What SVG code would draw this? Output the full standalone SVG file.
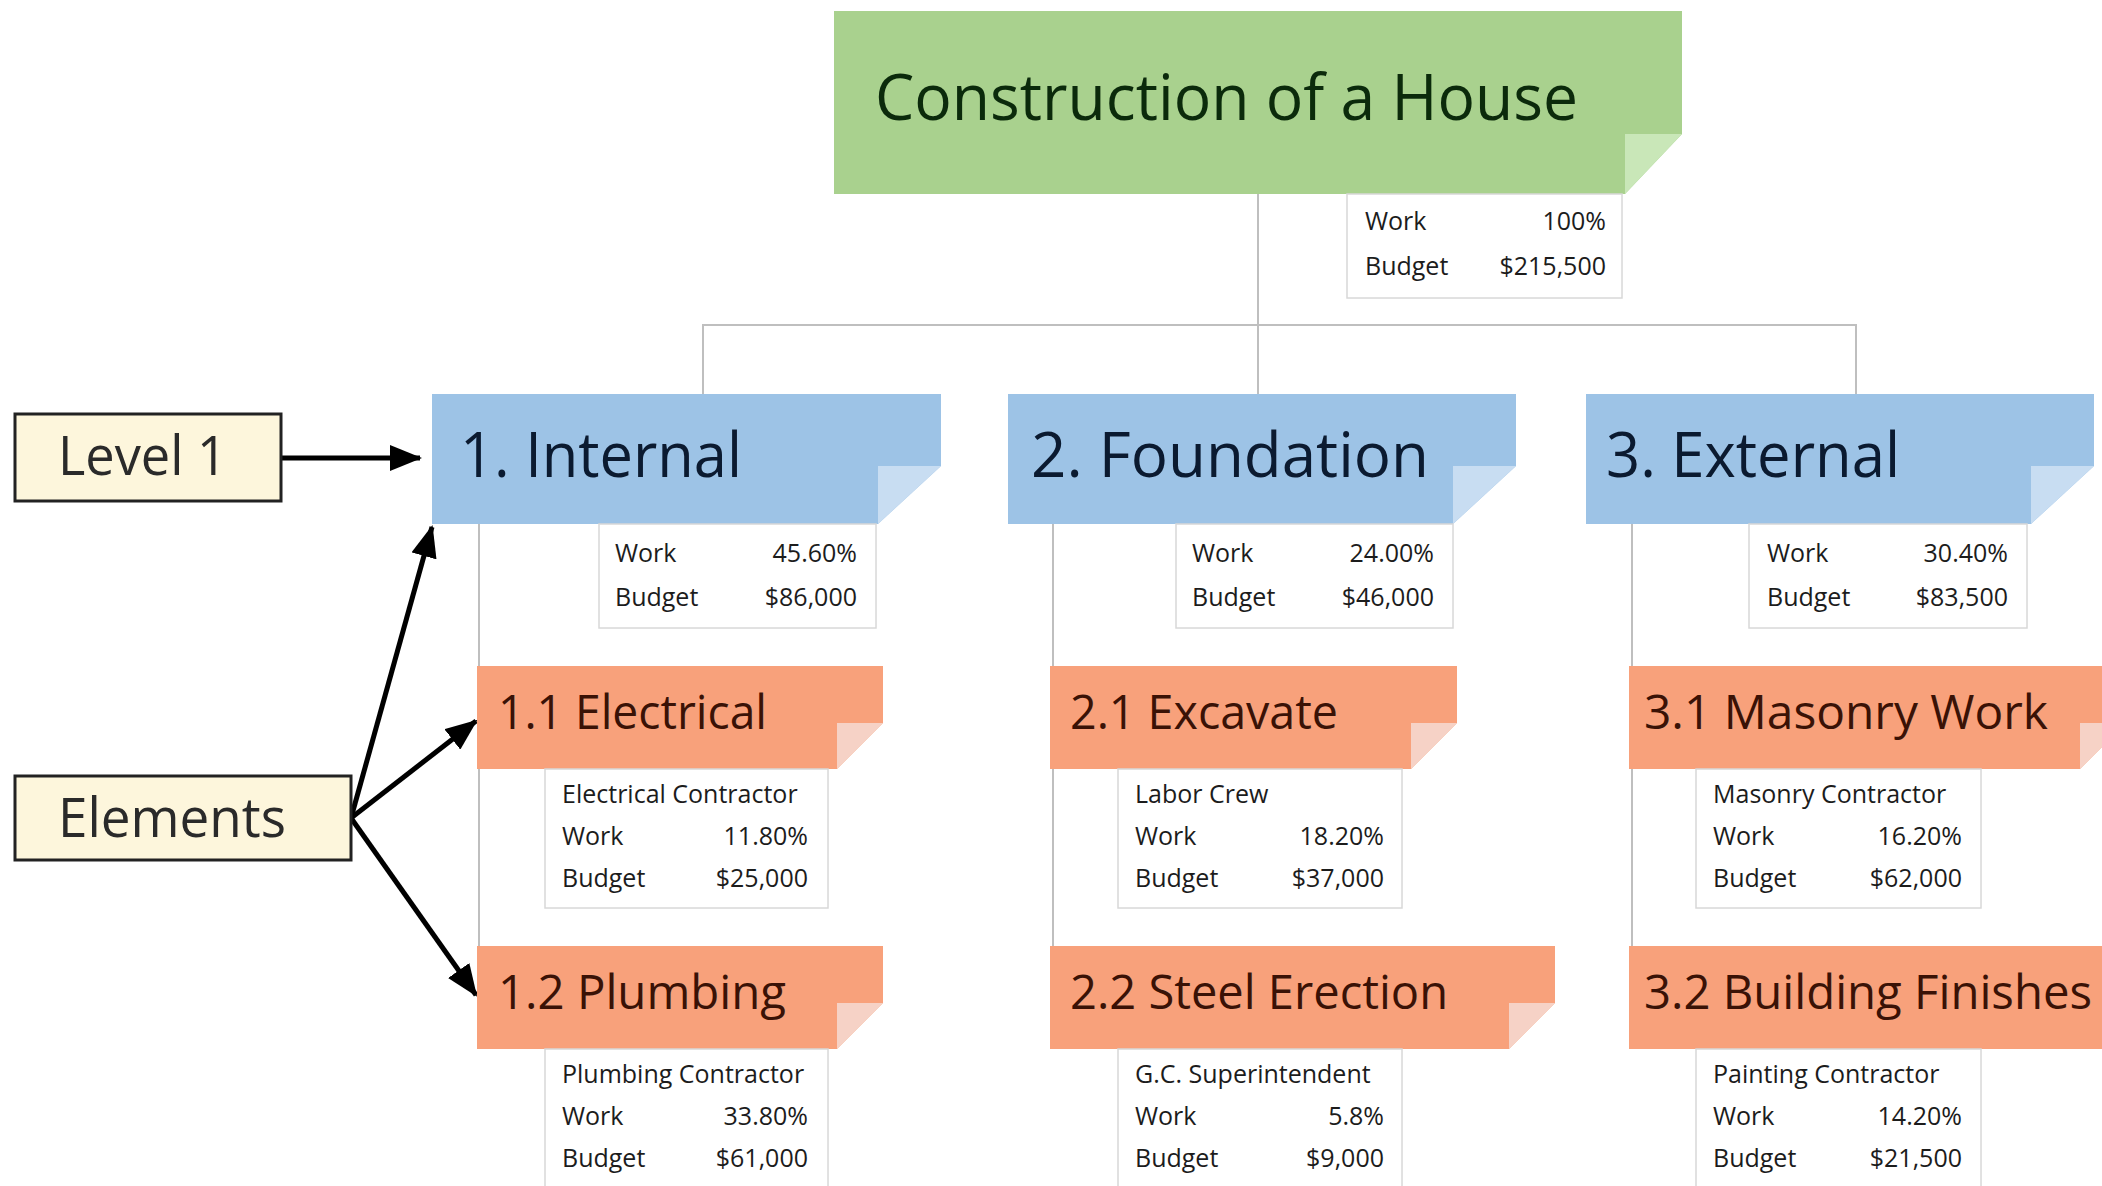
<svg xmlns="http://www.w3.org/2000/svg" width="2102" height="1186" viewBox="0 0 2102 1186">
<defs>
<style>
text{font-family:"Open Sans","Noto Sans","Liberation Sans",sans-serif;}
.t0{font-size:64px;fill:#0b2a0b;}
.t1{font-size:62px;fill:#0b1a30;}
.t2{font-size:48px;fill:#3a1206;}
.sm{font-size:25px;fill:#1c1c1c;}
.r{text-anchor:end;}
.ann{font-size:54px;fill:#2a2a2a;}
.green{fill:#a9d18e;}
.greenf{fill:#c9e7b8;}
.blue{fill:#9dc3e6;}
.bluef{fill:#c8ddf2;}
.orange{fill:#f8a17b;}
.orangef{fill:#f6d2c6;}
.det{fill:#ffffff;stroke:#d8d8d8;stroke-width:1.5;}
.conn{fill:none;stroke:#bfbfbf;stroke-width:2;}
.annbox{fill:#fdf6dc;stroke:#222222;stroke-width:3;}
.arrow{fill:none;stroke:#000000;stroke-width:5;}
</style>
<marker id="ah" markerUnits="userSpaceOnUse" markerWidth="32" markerHeight="26" refX="30" refY="13" orient="auto">
<path d="M0,0 L32,13 L0,26 Z" fill="#000000"/>
</marker>
</defs>
<rect width="2102" height="1186" fill="#ffffff"/>

<g id="connectors">
<line class="conn" x1="1258" y1="194" x2="1258" y2="394"/>
<polyline class="conn" points="703,394 703,325 1856,325 1856,394"/>
<line class="conn" x1="479" y1="524" x2="479" y2="997"/>
<line class="conn" x1="1053" y1="524" x2="1053" y2="997"/>
<line class="conn" x1="1632" y1="524" x2="1632" y2="997"/>
<line class="arrow" x1="281" y1="458" x2="420" y2="458" marker-end="url(#ah)"/>
<line class="arrow" x1="351" y1="818" x2="432" y2="527" marker-end="url(#ah)"/>
<line class="arrow" x1="351" y1="818" x2="476" y2="721" marker-end="url(#ah)"/>
<line class="arrow" x1="351" y1="818" x2="476" y2="995" marker-end="url(#ah)"/>
</g>

<g id="root">
<polygon class="green" points="834,11 1682,11 1682,134 1625,194 834,194"/>
<polygon class="greenf" points="1625,134 1682,134 1625,194"/>
<text class="t0" x="875" y="120" textLength="703" lengthAdjust="spacingAndGlyphs">Construction of a House</text>
<rect class="det" x="1347" y="194" width="275" height="104"/>
<text class="sm" x="1365" y="230">Work</text>
<text class="sm r" x="1606" y="230">100%</text>
<text class="sm" x="1365" y="275">Budget</text>
<text class="sm r" x="1606" y="275">$215,500</text>
</g>

<g id="n1">
<polygon class="blue" points="432,394 941,394 941,466 878,524 432,524"/>
<polygon class="bluef" points="878,466 941,466 878,524"/>
<text class="t1" x="460" y="477" textLength="282" lengthAdjust="spacingAndGlyphs">1. Internal</text>
<rect class="det" x="599" y="524" width="277" height="104"/>
<text class="sm" x="615" y="562">Work</text>
<text class="sm r" x="857" y="562">45.60%</text>
<text class="sm" x="615" y="606">Budget</text>
<text class="sm r" x="857" y="606">$86,000</text>
</g>

<g id="n2">
<polygon class="blue" points="1008,394 1516,394 1516,466 1453,524 1008,524"/>
<polygon class="bluef" points="1453,466 1516,466 1453,524"/>
<text class="t1" x="1031" y="477" textLength="398" lengthAdjust="spacingAndGlyphs">2. Foundation</text>
<rect class="det" x="1176" y="524" width="277" height="104"/>
<text class="sm" x="1192" y="562">Work</text>
<text class="sm r" x="1434" y="562">24.00%</text>
<text class="sm" x="1192" y="606">Budget</text>
<text class="sm r" x="1434" y="606">$46,000</text>
</g>

<g id="n3">
<polygon class="blue" points="1586,394 2094,394 2094,466 2031,524 1586,524"/>
<polygon class="bluef" points="2031,466 2094,466 2031,524"/>
<text class="t1" x="1606" y="477" textLength="294" lengthAdjust="spacingAndGlyphs">3. External</text>
<rect class="det" x="1749" y="524" width="278" height="104"/>
<text class="sm" x="1767" y="562">Work</text>
<text class="sm r" x="2008" y="562">30.40%</text>
<text class="sm" x="1767" y="606">Budget</text>
<text class="sm r" x="2008" y="606">$83,500</text>
</g>

<g id="n1-1">
<polygon class="orange" points="477,666 883,666 883,723 837,769 477,769"/>
<polygon class="orangef" points="837,723 883,723 837,769"/>
<text class="t2" x="498" y="729" textLength="269" lengthAdjust="spacingAndGlyphs">1.1 Electrical</text>
<rect class="det" x="545" y="769" width="283" height="139"/>
<text class="sm" x="562" y="803">Electrical Contractor</text>
<text class="sm" x="562" y="845">Work</text>
<text class="sm r" x="808" y="845">11.80%</text>
<text class="sm" x="562" y="887">Budget</text>
<text class="sm r" x="808" y="887">$25,000</text>
</g>

<g id="n1-2">
<polygon class="orange" points="477,946 883,946 883,1003 837,1049 477,1049"/>
<polygon class="orangef" points="837,1003 883,1003 837,1049"/>
<text class="t2" x="498" y="1009" textLength="288" lengthAdjust="spacingAndGlyphs">1.2 Plumbing</text>
<rect class="det" x="545" y="1049" width="283" height="145"/>
<text class="sm" x="562" y="1083">Plumbing Contractor</text>
<text class="sm" x="562" y="1125">Work</text>
<text class="sm r" x="808" y="1125">33.80%</text>
<text class="sm" x="562" y="1167">Budget</text>
<text class="sm r" x="808" y="1167">$61,000</text>
</g>

<g id="n2-1">
<polygon class="orange" points="1050,666 1457,666 1457,723 1411,769 1050,769"/>
<polygon class="orangef" points="1411,723 1457,723 1411,769"/>
<text class="t2" x="1070" y="729" textLength="268" lengthAdjust="spacingAndGlyphs">2.1 Excavate</text>
<rect class="det" x="1118" y="769" width="284" height="139"/>
<text class="sm" x="1135" y="803">Labor Crew</text>
<text class="sm" x="1135" y="845">Work</text>
<text class="sm r" x="1384" y="845">18.20%</text>
<text class="sm" x="1135" y="887">Budget</text>
<text class="sm r" x="1384" y="887">$37,000</text>
</g>

<g id="n2-2">
<polygon class="orange" points="1050,946 1555,946 1555,1003 1509,1049 1050,1049"/>
<polygon class="orangef" points="1509,1003 1555,1003 1509,1049"/>
<text class="t2" x="1070" y="1009" textLength="378" lengthAdjust="spacingAndGlyphs">2.2 Steel Erection</text>
<rect class="det" x="1118" y="1049" width="284" height="145"/>
<text class="sm" x="1135" y="1083">G.C. Superintendent</text>
<text class="sm" x="1135" y="1125">Work</text>
<text class="sm r" x="1384" y="1125">5.8%</text>
<text class="sm" x="1135" y="1167">Budget</text>
<text class="sm r" x="1384" y="1167">$9,000</text>
</g>

<g id="n3-1">
<polygon class="orange" points="1629,666 2126,666 2126,723 2080,769 1629,769"/>
<polygon class="orangef" points="2080,723 2126,723 2080,769"/>
<text class="t2" x="1644" y="729" textLength="404" lengthAdjust="spacingAndGlyphs">3.1 Masonry Work</text>
<rect class="det" x="1696" y="769" width="285" height="139"/>
<text class="sm" x="1713" y="803">Masonry Contractor</text>
<text class="sm" x="1713" y="845">Work</text>
<text class="sm r" x="1962" y="845">16.20%</text>
<text class="sm" x="1713" y="887">Budget</text>
<text class="sm r" x="1962" y="887">$62,000</text>
</g>

<g id="n3-2">
<polygon class="orange" points="1629,946 2170,946 2170,1003 2124,1049 1629,1049"/>
<text class="t2" x="1644" y="1009" textLength="448" lengthAdjust="spacingAndGlyphs">3.2 Building Finishes</text>
<rect class="det" x="1696" y="1049" width="285" height="145"/>
<text class="sm" x="1713" y="1083">Painting Contractor</text>
<text class="sm" x="1713" y="1125">Work</text>
<text class="sm r" x="1962" y="1125">14.20%</text>
<text class="sm" x="1713" y="1167">Budget</text>
<text class="sm r" x="1962" y="1167">$21,500</text>
</g>

<g id="label-level1">
<rect class="annbox" x="15" y="414" width="266" height="87"/>
<text class="ann" x="58" y="475" textLength="169" lengthAdjust="spacingAndGlyphs">Level 1</text>
</g>

<g id="label-elements">
<rect class="annbox" x="15" y="776" width="336" height="84"/>
<text class="ann" x="58" y="837" textLength="228" lengthAdjust="spacingAndGlyphs">Elements</text>
</g>
</svg>
